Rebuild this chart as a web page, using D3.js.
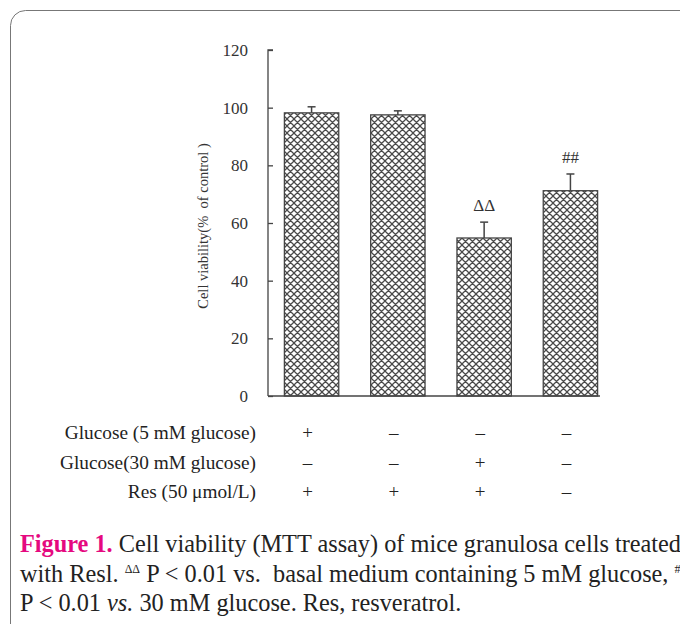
<!DOCTYPE html>
<html><head><meta charset="utf-8">
<script src="https://cdn.jsdelivr.net/npm/d3@7"></script>
<style>body{margin:0;background:#fff;overflow:hidden}svg{display:block}</style>
</head><body>
<script>
const groups = ["G1","G2","G3","G4"];
const viability = [98.2, 97.5, 54.8, 71.2];
const errorTop = [100.3, 98.9, 60.3, 77.0];
const marks = ["", "", "ΔΔ", "##"];
const yTicks = [0, 20, 40, 60, 80, 100, 120];
const rowLabels = ["Glucose (5 mM glucose)", "Glucose(30 mM glucose)", "Res (50 μmol/L)"];
const rowSigns = [["+","–","–","–"],["–","–","+","–"],["+","+","+","–"]];

const W = 680, H = 624;
const svg = d3.select("body").append("svg").attr("width", W).attr("height", H);
const defs = svg.append("defs");
const pat = defs.append("pattern").attr("id","hatch").attr("patternUnits","userSpaceOnUse")
  .attr("width",7).attr("height",7);
pat.append("rect").attr("width",7).attr("height",7).attr("fill","#fff");
pat.append("path").attr("d","M0,0L7,7M0,7L7,0M-1,6L1,8M6,-1L8,1M-1,1L1,-1M6,8L8,6")
  .attr("stroke","#4a4a4a").attr("stroke-width",1.25);

// frame
svg.append("rect").attr("x",10.5).attr("y",10.5).attr("width",700).attr("height",700)
  .attr("rx",15).attr("fill","none").attr("stroke","#777").attr("stroke-width",1);

const y = d3.scaleLinear().domain([0,120]).range([396,50]);
const x = d3.scaleBand().domain(groups).range([268, 614]).paddingInner(0.37).paddingOuter(0.19);

const serif = "'Liberation Serif','Times New Roman',serif";

// bars
svg.selectAll("rect.bar").data(groups).join("rect").attr("class","bar")
  .attr("x", d=>x(d)).attr("width", x.bandwidth())
  .attr("y", (d,i)=>y(viability[i])).attr("height",(d,i)=>y(0)-y(viability[i]))
  .attr("fill","url(#hatch)").attr("stroke","#444").attr("stroke-width",1.3);

// error bars
groups.forEach((g,i)=>{
  const cx = x(g)+x.bandwidth()/2;
  svg.append("line").attr("x1",cx).attr("x2",cx).attr("y1",y(viability[i])).attr("y2",y(errorTop[i]))
    .attr("stroke","#444").attr("stroke-width",1.5);
  svg.append("line").attr("x1",cx-4).attr("x2",cx+4).attr("y1",y(errorTop[i])).attr("y2",y(errorTop[i]))
    .attr("stroke","#444").attr("stroke-width",1.5);
  if (marks[i]) svg.append("text").attr("x",cx).attr("y",y(errorTop[i])-11)
    .attr("text-anchor","middle").attr("font-family",serif).attr("font-size",17).attr("fill","#333").text(marks[i]);
});

// y axis
const ax = svg.append("g").attr("transform","translate(268,0)")
  .call(d3.axisLeft(y).tickValues(yTicks).tickSize(-5).tickPadding(20).tickSizeOuter(0));
ax.select(".domain").attr("stroke","#444").attr("stroke-width",1.3).attr("d","M0,396V50H5");
ax.selectAll(".tick line").attr("stroke","#444").attr("stroke-width",1.3);
ax.selectAll(".tick text").attr("font-family",serif).attr("font-size",17).attr("fill","#333");
// baseline
svg.append("line").attr("x1",268).attr("x2",600).attr("y1",y(0)).attr("y2",y(0))
  .attr("stroke","#444").attr("stroke-width",1.3);

svg.append("text").attr("transform","translate(208,226) rotate(-90)").attr("text-anchor","middle")
  .attr("font-family",serif).attr("font-size",14.5).attr("fill","#333").attr("xml:space","preserve")
  .text("Cell viability(%  of control )");

// condition table
const rowY = [439, 469, 498];
rowLabels.forEach((lab,r)=>{
  svg.append("text").attr("x",256).attr("y",rowY[r]).attr("text-anchor","end")
    .attr("font-family",serif).attr("font-size",19.3).attr("fill","#222").text(lab);
  groups.forEach((g,i)=>{
    svg.append("text").attr("x",x(g)+x.bandwidth()/2-4).attr("y",rowY[r]).attr("text-anchor","middle")
      .attr("font-family",serif).attr("font-size",19).attr("fill","#222").text(rowSigns[r][i]);
  });
});

// caption
const cap = svg.append("g").attr("font-family",serif).attr("font-size",24.3).attr("fill","#222");
const l1 = cap.append("text").attr("x",20).attr("y",552);
l1.append("tspan").attr("fill","#e5097f").attr("font-weight","bold").text("Figure 1.");
l1.append("tspan").text(" Cell viability (MTT assay) of mice granulosa cells treated");
const l2 = cap.append("text").attr("x",20).attr("y",582).attr("xml:space","preserve");
l2.append("tspan").text("with Resl. ");
l2.append("tspan").attr("font-size",12).attr("dy",-9).text("ΔΔ");
l2.append("tspan").attr("dy",9).text(" P < 0.01 vs.  basal medium containing 5 mM glucose, ");
l2.append("tspan").attr("font-size",12).attr("dy",-9).text("##");
const l3 = cap.append("text").attr("x",20).attr("y",611);
l3.append("tspan").text("P < 0.01 ");
l3.append("tspan").attr("font-style","italic").text("vs.");
l3.append("tspan").text(" 30 mM glucose. Res, resveratrol.");
</script>
</body></html>
